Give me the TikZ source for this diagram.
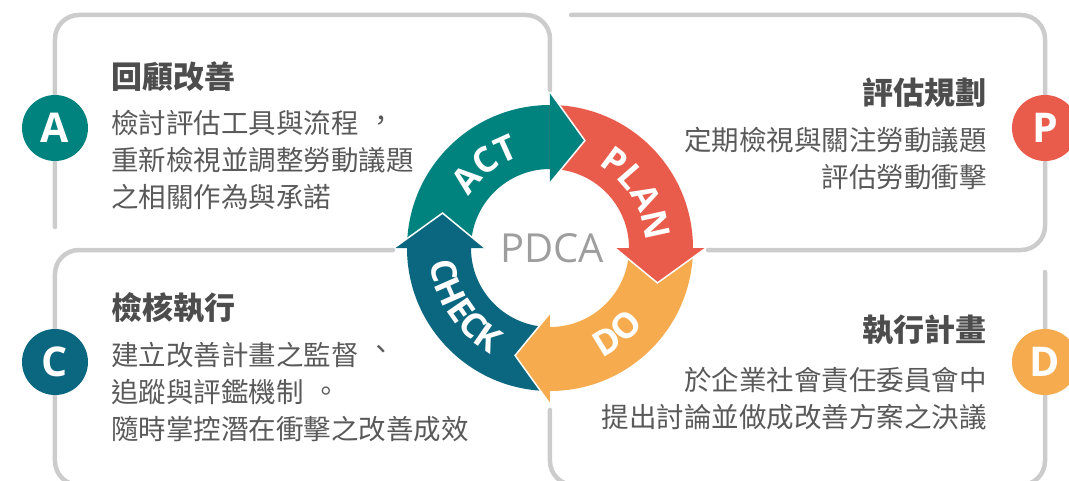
\documentclass[tikz,border=0pt]{standalone}
\usepackage{fontspec}
\setmainfont{Open Sans}
\newfontfamily\cjk{Noto Sans CJK TC}
\usetikzlibrary{decorations.text}

\definecolor{actcol}{HTML}{00827F}
\definecolor{plancol}{HTML}{E95B4B}
\definecolor{docol}{HTML}{F5AB4E}
\definecolor{checkcol}{HTML}{0B6780}
\definecolor{framegray}{HTML}{CCCCCC}
\definecolor{titlegray}{HTML}{4D4D4D}
\definecolor{bodygray}{HTML}{595959}
\definecolor{pdcagray}{HTML}{9E9E9E}

\newcommand\arrowlabelfont{\bfseries\fontsize{35}{35}\selectfont}
% centred punctuation, as set in Taiwan
\newcommand\midpunct[2][0.12em]{\hspace{0.32em}\raisebox{#1}{#2}}

\begin{document}
\begin{tikzpicture}[x=1pt, y=1pt,
    boxline/.style = {draw=framegray, line width=4.5pt, line cap=round, rounded corners=24pt},
    boxtitle/.style = {font=\cjk\bfseries\fontsize{31}{31}\selectfont, text=titlegray, inner sep=0pt},
    boxtext/.style = {font=\cjk\fontsize{27.5}{37}\selectfont, text=bodygray, inner sep=0pt},
    badge/.style = {circle, minimum size=66pt, inner sep=0pt, text=white, font=\bfseries\fontsize{41}{41}\selectfont},
    arrowhead/.style = {draw=white, line width=1.5pt},
    arrowlabel/.style = {decorate, decoration={text along path, text align=center, text color=white, text={|\arrowlabelfont|#1}}}]
    \useasboundingbox (-550,-232) rectangle (519,248);
    \clip (-550,-232) rectangle (519,248);

    % box outlines
    \draw[boxline] (-495,21) -- (-495,233) -- (0,233) -- (0,158);
    \draw[boxline] (21,233) -- (495,233) -- (495,-2) -- (158,-2);
    \draw[boxline] (495,-24) -- (495,-237) -- (0,-237) -- (0,-162);
    \draw[boxline] (-157,-2) -- (-495,-2) -- (-495,-237) -- (-250,-237);

    % ring
    \fill[actcol] (180:143) arc[start angle=180, end angle=90, radius=143] -- (90:79) arc[start angle=90, end angle=180, radius=79] -- cycle;
    \fill[plancol] (90:143) arc[start angle=90, end angle=0, radius=143] -- (0:79) arc[start angle=0, end angle=90, radius=79] -- cycle;
    \fill[docol] (0:143) arc[start angle=0, end angle=-90, radius=143] -- (-90:79) arc[start angle=-90, end angle=0, radius=79] -- cycle;
    \fill[checkcol] (-90:143) arc[start angle=-90, end angle=-180, radius=143] -- (-180:79) arc[start angle=-180, end angle=-90, radius=79] -- cycle;

    \filldraw[fill=actcol, arrowhead] (90:156) -- (72:113) -- (90:65);
    \filldraw[fill=plancol, arrowhead] (0:156) -- (-18:113) -- (0:65);
    \filldraw[fill=docol, arrowhead] (-90:156) -- (-108:113) -- (-90:65);
    \filldraw[fill=checkcol, arrowhead] (180:156) -- (162:113) -- (180:65);

    \path[arrowlabel=ACT] (173:96) arc[start angle=173, end angle=83, radius=96];
    \path[arrowlabel=PLAN] (77:96) arc[start angle=77, end angle=-13, radius=96];
    \path[arrowlabel=DO] (-97:121) arc[start angle=-97, end angle=-7, radius=121];
    \path[arrowlabel=CHECK] (169:121) arc[start angle=169, end angle=259, radius=121];

    \node[font=\fontsize{40}{40}\selectfont, text=pdcagray] (pdca) at (2,0) {PDCA};

    % badges
    \node[badge, fill=actcol] (A) at (-495,120) {A};
    \node[badge, fill=plancol] (P) at (495,120) {P};
    \node[badge, fill=checkcol] (C) at (-495,-114) {C};
    \node[badge, fill=docol] (D) at (495,-114) {D};

    % texts
    \node[boxtitle, anchor=west] (actTitle) at (-439,171) {回顧改善};
    \node[boxtext, anchor=west, align=left] (actText) at (-439,88) {檢討評估工具與流程\midpunct{，}\\重新檢視並調整勞動議題\\之相關作為與承諾};
    \node[boxtitle, anchor=east] (planTitle) at (437,155) {評估規劃};
    \node[boxtext, anchor=east, align=right] (planText) at (437,89) {定期檢視與關注勞動議題\\評估勞動衝擊};
    \node[boxtitle, anchor=west] (checkTitle) at (-439,-60) {檢核執行};
    \node[boxtext, anchor=west, align=left] (checkText) at (-439,-144) {建立改善計畫之監督\midpunct[0.2em]{、}\\追蹤與評鑑機制\midpunct[0.05em]{。}\\隨時掌控潛在衝擊之改善成效};
    \node[boxtitle, anchor=east] (doTitle) at (437,-82) {執行計畫};
    \node[boxtext, anchor=east, align=right] (doText) at (437,-151) {於企業社會責任委員會中\\提出討論並做成改善方案之決議};
\end{tikzpicture}
\end{document}
